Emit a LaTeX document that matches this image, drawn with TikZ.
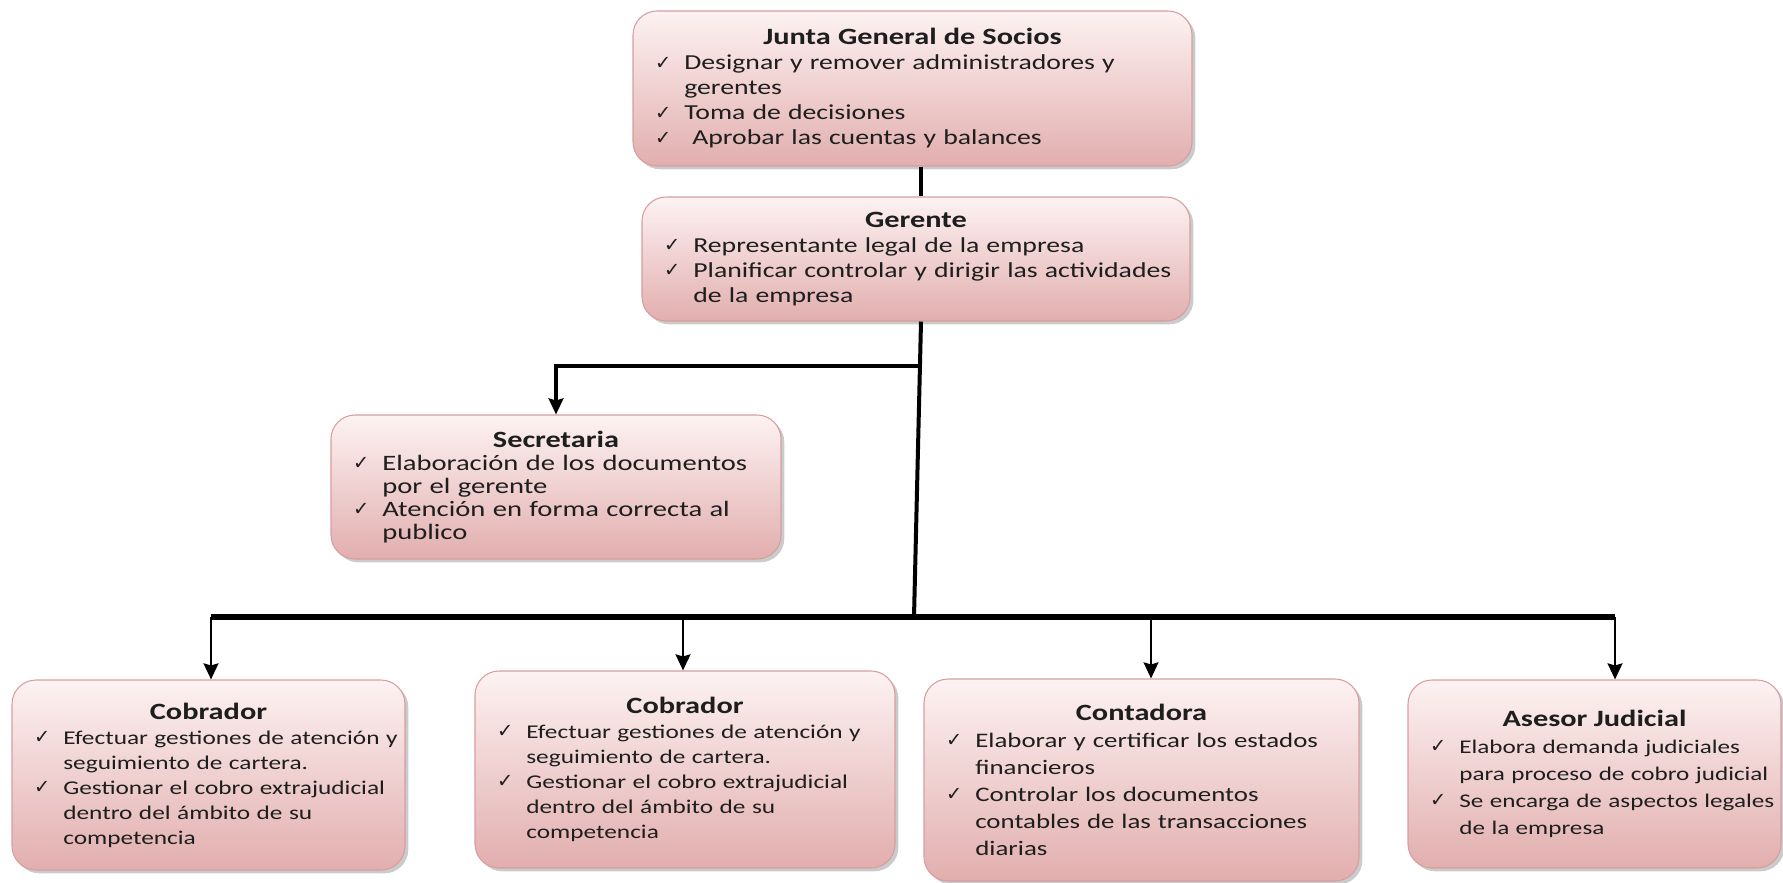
\documentclass[tikz,border=0pt]{standalone}
\usepackage{fontspec}
\setmainfont[FakeStretch=1.3]{Carlito}
\newfontfamily\symfont{DejaVu Sans}
\usetikzlibrary{arrows.meta,shadows}

\definecolor{rosaClaro}{RGB}{253,242,242}
\definecolor{rosaOscuro}{RGB}{226,174,174}
\definecolor{bordeRosa}{RGB}{214,158,158}
\definecolor{tinta}{RGB}{30,30,30}

\newlength\chkw \setlength\chkw{22pt}
\newcommand{\itm}[1]{\mbox{\makebox[\chkw][l]{\raisebox{0.5pt}{\symfont\fontsize{14.5}{14.5}\selectfont ✓}}#1}}
\newcommand{\sig}[1]{\mbox{\hspace*{\chkw}#1}}
\newcommand{\titulo}[1]{\makebox[\linewidth]{\fontsize{17.5}{20}\selectfont\bfseries #1}}
\newcommand{\cuerpo}[2]{\fontsize{#1}{#2}\selectfont}

\begin{document}
\begin{tikzpicture}[x=0.75pt,y=-0.75pt]
\tikzstyle{caja} = [rectangle, rounded corners=18pt, draw=bordeRosa, line width=0.8pt, top color=rosaClaro, bottom color=rosaOscuro, drop shadow={shadow xshift=2.5pt, shadow yshift=-2.5pt, fill=black!45, opacity=0.45}, inner xsep=16.5pt, inner ysep=3pt, align=left, text=tinta]
\tikzstyle{tronco} = [line width=3pt, black]
\tikzstyle{barra} = [line width=4.5pt, black]
\tikzstyle{flecha} = [-{Stealth[length=12pt,width=11pt,inset=1.5pt]}, line width=2.2pt, black]

\useasboundingbox (0,0) rectangle (1783,882);

% cargos
\node [caja, minimum width=419.25pt, minimum height=116.25pt, text width=386.25pt, font=\cuerpo{16}{18.75}] (junta) at (912.5,88.5)
	{\titulo{Junta General de Socios}\\
	 \itm{Designar y remover administradores y}\\
	 \sig{gerentes}\\
	 \itm{Toma de decisiones}\\
	 \itm{\hspace*{6pt}Aprobar las cuentas y balances}};
\node [caja, minimum width=411pt, minimum height=93pt, text width=378pt, font=\cuerpo{16}{18.75}] (gerente) at (916,259)
	{\titulo{Gerente}\\
	 \itm{Representante legal de la empresa}\\
	 \itm{Planificar controlar y dirigir las actividades}\\
	 \sig{de la empresa}};
\node [caja, minimum width=337.5pt, minimum height=108pt, text width=304.5pt, font=\cuerpo{16.5}{17.25}] (secretaria) at (556,487)
	{\titulo{Secretaria}\\
	 \itm{Elaboración de los documentos}\\
	 \sig{por el gerente}\\
	 \itm{Atención en forma correcta al}\\
	 \sig{publico}};
\node [caja, minimum width=294.75pt, minimum height=142.5pt, text width=261.75pt, font=\cuerpo{14.6}{18.75}] (cobA) at (208.5,775)
	{\titulo{Cobrador}\\
	 \itm{Efectuar gestiones de atención y}\\
	 \sig{seguimiento de cartera.}\\
	 \itm{Gestionar el cobro extrajudicial}\\
	 \sig{dentro del ámbito de su}\\
	 \sig{competencia}};
\node [caja, minimum width=315pt, minimum height=147.75pt, text width=282pt, font=\cuerpo{14.6}{18.75}] (cobB) at (685,769.5)
	{\titulo{Cobrador}\\
	 \itm{Efectuar gestiones de atención y}\\
	 \sig{seguimiento de cartera.}\\
	 \itm{Gestionar el cobro extrajudicial}\\
	 \sig{dentro del ámbito de su}\\
	 \sig{competencia}};
\node [caja, minimum width=326.25pt, minimum height=151.5pt, text width=293.25pt, font=\cuerpo{15.5}{20.25}] (contadora) at (1141.5,780)
	{\titulo{Contadora}\\
	 \itm{Elaborar y certificar los estados}\\
	 \sig{financieros}\\
	 \itm{Controlar los documentos}\\
	 \sig{contables de las transacciones}\\
	 \sig{diarias}};
\node [caja, minimum width=279.75pt, minimum height=141pt, text width=246.75pt, font=\cuerpo{14.5}{20.25}] (asesor) at (1594.5,774)
	{\titulo{Asesor Judicial}\\
	 \itm{Elabora demanda judiciales}\\
	 \sig{para proceso de cobro judicial}\\
	 \itm{Se encarga de aspectos legales}\\
	 \sig{de la empresa}};

% lineas
\coordinate (eje) at (921,0);
\coordinate (ramaS) at (920,366);
\coordinate (nudo) at (914,617);
\draw [tronco] (junta.south -| eje) -- (gerente.north -| eje);
\draw [tronco] (gerente.south -| eje) -- (nudo);
\draw [flecha, line width=2.8pt] (ramaS) -| (secretaria.north);

\coordinate (b1) at (211,617);
\coordinate (b2) at (683,617);
\coordinate (b3) at (1151,617);
\coordinate (b4) at (1615,617);
\draw [barra] (b1) -- (b4);
\foreach \b/\n in {b1/cobA,b2/cobB,b3/contadora,b4/asesor}
	{
		\draw [flecha] (\b) -- (\b |- \n.north);
	}
\end{tikzpicture}
\end{document}
